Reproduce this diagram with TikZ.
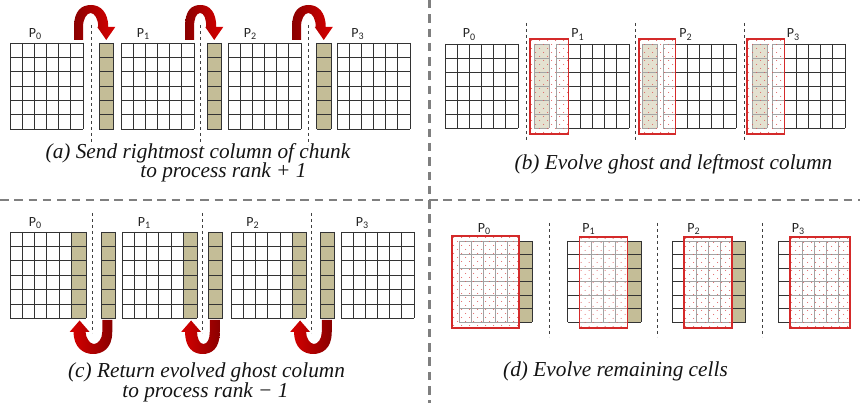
\documentclass[tikz,border=0pt]{standalone}
\usepackage{fontspec}
\setmainfont{Liberation Serif}
\newfontfamily\labfont{Carlito}
\definecolor{tanc}{HTML}{C4BD97}
\definecolor{redbox}{HTML}{D42A2A}
\definecolor{divgray}{HTML}{7F7F7F}
\definecolor{arrdark}{HTML}{8A0000}
\definecolor{arrlight}{HTML}{D80000}
\definecolor{dotc}{HTML}{E05858}
\tikzset{
  gridline/.style={draw=black!80, line width=0.9pt},
  procdash/.style={draw=black!75, line width=0.8pt, dash pattern=on 3.5pt off 2.5pt},
  divider/.style={draw=divgray, line width=2.2pt, dash pattern=on 8.5pt off 5.8pt},
  boxframe/.style={draw=redbox, line width=1.3pt},
  veil/.style={fill=white, fill opacity=0.55},
  lbl/.style={inner sep=0pt, anchor=base, text=black!85, font=\labfont\fontsize{14}{16}\selectfont},
  captext/.style={inner sep=0pt, anchor=base, text=black!92, font=\itshape\fontsize{21.3}{24}\selectfont},
}
\newcommand\plab[1]{P\raisebox{-2.5pt}{\fontsize{10}{11}\selectfont #1}}
\newcommand\cellgrid[6]{% x0 y0 cw rh ncol nrow
  \foreach \i in {0,...,#5} {\draw[gridline] ({#1+\i*#3},#2) -- ({#1+\i*#3},{#2+#6*#4});}
  \foreach \j in {0,...,#6} {\draw[gridline] (#1,{#2+\j*#4}) -- ({#1+#5*#3},{#2+\j*#4});}
}
\newcommand\tancol[5]{% x0 y0 w rh n
  \fill[tanc] (#1,#2) rectangle ({#1+#3},{#2+#5*#4});
  \cellgrid{#1}{#2}{#3}{#4}{1}{#5}
}
\newcommand\dotbox[4]{% x0 y0 x1 y1
  \fill[veil] (#1,#2) rectangle (#3,#4);
  \begin{scope}
    \clip (#1,#2) rectangle (#3,#4);
    \foreach \j [evaluate=\j as \off using {4*mod(\j,2)}] in {0,...,24} {
      \foreach \i in {0,...,9} {
        \fill[dotc] ({#1+1.5+8*\i+\off},{#2+1.5+4*\j}) circle (0.5pt);
      }
    }
  \end{scope}
  \draw[boxframe] (#1,#2) rectangle (#3,#4);
}
\newcommand\toparrow[2]{% R h
  \pgfmathsetmacro\arL{#1-9}
  \pgfmathsetmacro\arO{#2+2}
  \pgfmathsetmacro\arI{#2-8}
  \pgfmathsetmacro\arMc{(\arL+\arO)/2}
  \pgfmathsetmacro\arIc{(#1+\arI)/2}
  \shade[left color=arrdark, right color=arrlight]
    (\arL,40) -- (\arL,27) .. controls (\arL,10) and ({\arMc-9},5) .. (\arMc,5)
    .. controls ({\arMc+9},5) and (\arO,12) .. (\arO,27)
    -- ({#2+9},27) -- (#2,40) -- ({#2-9},27) -- (\arI,27)
    .. controls (\arI,19) and ({\arIc+4},13) .. (\arIc,13)
    .. controls ({\arIc-4},13) and (#1,19) .. (#1,27) -- (#1,40) -- cycle;
}
\newcommand\botarrow[2]{% h g
  \pgfmathsetmacro\brO{#2+5}
  \pgfmathsetmacro\brI{#2-5}
  \pgfmathsetmacro\brHo{#1-6}
  \pgfmathsetmacro\brHi{#1+6}
  \pgfmathsetmacro\brMc{(\brHo+\brO)/2}
  \pgfmathsetmacro\brIc{(\brHi+\brI)/2}
  \shade[left color=arrlight, right color=arrdark]
    (\brO,320) -- (\brO,332) .. controls (\brO,349) and ({\brMc+9},354) .. (\brMc,354)
    .. controls ({\brMc-9},354) and (\brHo,348) .. (\brHo,332)
    -- ({#1-10},332) -- (#1,320.5) -- ({#1+10},332) -- (\brHi,332)
    .. controls (\brHi,338) and ({\brIc-4},344) .. (\brIc,344)
    .. controls ({\brIc+4},344) and (\brI,339) .. (\brI,332) -- (\brI,320) -- cycle;
}
\begin{document}
\begin{tikzpicture}[x=1pt,y=-1pt]
\useasboundingbox (0,0) rectangle (860,403);
\fill[white] (0,0) rectangle (860,403);

% ---------- panel (a) ----------
\cellgrid{10}{43}{12.17}{14.33}{6}{6}
\cellgrid{121}{43}{12.17}{14.33}{6}{6}
\cellgrid{228}{43}{12.17}{14.33}{6}{6}
\cellgrid{337}{43}{12.17}{14.33}{6}{6}
\tancol{99}{43}{14.5}{14.33}{6}
\tancol{207}{43}{14.5}{14.33}{6}
\tancol{316.5}{43}{14.5}{14.33}{6}
\toparrow{83}{106.25}
\toparrow{194}{214.25}
\toparrow{301}{323.75}
\draw[procdash] (91,25) -- (91,145);
\draw[procdash] (200,25) -- (200,145);
\draw[procdash] (308.5,25) -- (308.5,145);
\node[lbl] (pa0) at (35,37.5) {\plab{0}};
\node[lbl] (pa1) at (143,37.5) {\plab{1}};
\node[lbl] (pa2) at (250,37.5) {\plab{2}};
\node[lbl] (pa3) at (357.5,37.5) {\plab{3}};
\node[captext] (capa1) at (198,158.5) {(a) Send rightmost column of chunk};
\node[captext] (capa2) at (223.5,178) {to process rank + 1};

% ---------- panel (b) ----------
\cellgrid{445}{44}{12.17}{14}{6}{6}
\cellgrid{556}{44}{12.17}{14}{6}{6}
\cellgrid{663}{44}{12.17}{14}{6}{6}
\cellgrid{772}{44}{12.17}{14}{6}{6}
\tancol{534}{44}{15}{14}{6}
\tancol{642}{44}{15}{14}{6}
\tancol{752}{44}{15}{14}{6}
\dotbox{530}{39}{568.2}{134}
\dotbox{639}{39}{675.2}{134}
\dotbox{747}{39}{784.2}{134}
\draw[procdash] (526,23) -- (526,140);
\draw[procdash] (635,23) -- (635,140);
\draw[procdash] (744,23) -- (744,140);
\node[lbl] (pb0) at (469,38) {\plab{0}};
\node[lbl] (pb1) at (577.5,38) {\plab{1}};
\node[lbl] (pb2) at (685.5,38) {\plab{2}};
\node[lbl] (pb3) at (793,38) {\plab{3}};
\node[captext] (capb) at (673.5,169.3) {(b) Evolve ghost and leftmost column};

% ---------- panel (c) ----------
\cellgrid{10}{232}{12.25}{14.4}{5}{6}
\tancol{71.25}{232}{14.75}{14.4}{6}
\cellgrid{122}{232}{12.25}{14.4}{5}{6}
\tancol{183.25}{232}{13.75}{14.4}{6}
\cellgrid{231}{232}{12.25}{14.4}{5}{6}
\tancol{292.25}{232}{13.75}{14.4}{6}
\cellgrid{341}{232}{12.17}{14.4}{6}{6}
\tancol{101}{232}{14.5}{14.4}{6}
\tancol{208}{232}{14.5}{14.4}{6}
\tancol{320}{232}{14.5}{14.4}{6}
\botarrow{79.6}{107.25}
\botarrow{191.1}{214.75}
\botarrow{300.1}{326.75}
\draw[procdash] (92,213) -- (92,333);
\draw[procdash] (202,213) -- (202,333);
\draw[procdash] (311,213) -- (311,333);
\node[lbl] (pc0) at (35,226.5) {\plab{0}};
\node[lbl] (pc1) at (144,226.5) {\plab{1}};
\node[lbl] (pc2) at (252.5,226.5) {\plab{2}};
\node[lbl] (pc3) at (362,226.5) {\plab{3}};
\node[captext] (capc1) at (206.5,377.5) {(c) Return evolved ghost column};
\node[captext] (capc2) at (205.5,397.5) {to process rank − 1};

% ---------- panel (d) ----------
\cellgrid{459}{241}{12}{13.5}{5}{6}
\tancol{519}{241}{13}{13.5}{6}
\dotbox{452}{236}{519}{328}
\cellgrid{567.5}{241}{12}{13.5}{5}{6}
\tancol{627.5}{241}{13.5}{13.5}{6}
\dotbox{579.5}{237}{627.5}{328}
\cellgrid{672}{241}{12}{13.5}{5}{6}
\tancol{732}{241}{13.5}{13.5}{6}
\dotbox{684}{237}{732}{328}
\cellgrid{778}{241}{12}{13.5}{6}{6}
\dotbox{790}{237}{850}{328}
\draw[procdash] (549,223) -- (549,337);
\draw[procdash] (657,223) -- (657,337);
\draw[procdash] (762,223) -- (762,337);
\node[lbl] (pd0) at (484,232.5) {\plab{0}};
\node[lbl] (pd1) at (588.5,232.5) {\plab{1}};
\node[lbl] (pd2) at (693.5,232.5) {\plab{2}};
\node[lbl] (pd3) at (798,232.5) {\plab{3}};
\node[captext] (capd) at (615.5,376.7) {(d) Evolve remaining cells};

% ---------- dividers ----------
\draw[divider] (429.5,0) -- (429.5,403);
\draw[divider] (0,200) -- (860,200);
\end{tikzpicture}
\end{document}
